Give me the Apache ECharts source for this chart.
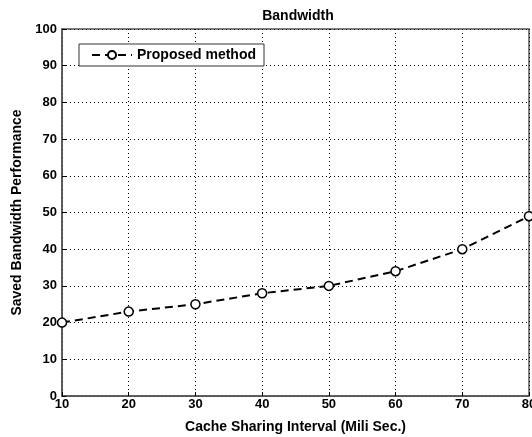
<!DOCTYPE html>
<html><head><meta charset="utf-8">
<script src="https://cdn.jsdelivr.net/npm/echarts@6/dist/echarts.min.js"></script>
<style>html,body{margin:0;padding:0;background:#fff}#c{width:532px;height:437px}</style>
</head><body><div id="c"></div>
<script>
const categories = [10, 20, 30, 40, 50, 60, 70, 80];
const proposedValues = [20, 23, 25, 28, 30, 34, 40, 49];
const yTicks = [0, 10, 20, 30, 40, 50, 60, 70, 80, 90, 100];
const seriesName = 'Proposed method';

const chart = echarts.init(document.getElementById('c'), null, {renderer: 'canvas'});
const font = 'Liberation Sans';
chart.setOption({
  animation: false,
  backgroundColor: '#fff',
  title: {text: 'Bandwidth', left: 293, top: 4, textAlign: 'center',
    textStyle: {fontFamily: font, fontSize: 14, fontWeight: 'bold', color: '#000'}},
  grid: {left: 62, right: 3, top: 29, bottom: 41, show: true, borderColor: '#555', borderWidth: 1.5,
    containLabel: false, outerBoundsMode: 'none'},
  legend: {show: true, left: 79, top: 44, orient: 'horizontal',
    itemWidth: 40, itemHeight: 10, itemGap: 6, padding: [4, 8, 4, 12],
    backgroundColor: '#fff', borderColor: '#333', borderWidth: 1, borderRadius: 0,
    textStyle: {fontFamily: font, fontSize: 14, fontWeight: 'bold', color: '#000'},
    data: [seriesName]},
  xAxis: {type: 'value', min: 10, max: 80, interval: 10,
    name: 'Cache Sharing Interval (Mili Sec.)', nameLocation: 'middle', nameGap: 24,
    nameTextStyle: {fontFamily: font, fontSize: 14, fontWeight: 'bold', color: '#000'},
    axisLine: {show: true, lineStyle: {color: '#555', width: 1.5}},
    axisTick: {show: true, inside: true, length: 4, lineStyle: {color: '#000'}},
    axisLabel: {fontFamily: font, fontSize: 13, fontWeight: 'bold', color: '#000', margin: 2},
    splitLine: {show: true, lineStyle: {type: [1, 3], color: '#000', width: 1}}},
  yAxis: {type: 'value', min: 0, max: 100, interval: 10,
    name: 'Saved Bandwidth Performance', nameLocation: 'middle', nameGap: 33,
    nameTextStyle: {fontFamily: font, fontSize: 14, fontWeight: 'bold', color: '#000'},
    axisLine: {show: true, lineStyle: {color: '#555', width: 1.5}},
    axisTick: {show: true, inside: true, length: 4, lineStyle: {color: '#000'}},
    axisLabel: {fontFamily: font, fontSize: 13, fontWeight: 'bold', color: '#000', margin: 5,
      formatter: v => yTicks.includes(v) ? String(v) : ''},
    splitLine: {show: true, lineStyle: {type: [1, 3], color: '#000', width: 1}}},
  series: [{
    name: seriesName, type: 'line',
    data: categories.map((c, i) => [c, proposedValues[i]]),
    symbol: 'circle', symbolSize: 9, showSymbol: true,
    itemStyle: {color: '#fff', borderColor: '#000', borderWidth: 1.5},
    lineStyle: {color: '#000', width: 2, type: [8, 5]},
    clip: false
  }]
});
</script></body></html>
